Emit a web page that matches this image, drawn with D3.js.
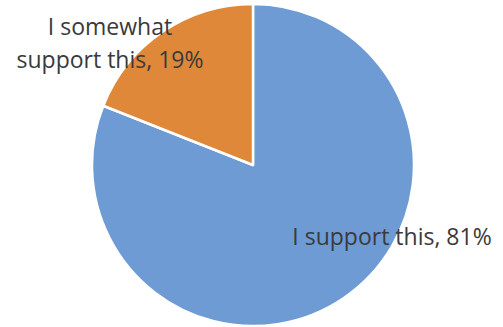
<!DOCTYPE html>
<html>
<head>
    <meta charset="utf-8">
    <title>Support pie</title>
    <script src="https://d3js.org/d3.v7.min.js"></script>
    <style>
        body { margin: 0; background: #fff; }
    </style>
</head>
<body>
<div id="chart"></div>
<script type="text/javascript">

    let categories = ["I support this", "I somewhat support this"];
    let values = [81, 19];
    let colors = ["#6e9bd4", "#df883a"];

    let w = 503, h = 327;
    let cx = 253, cy = 165, radius = 161;

    let svg = d3.select("#chart")
        .append("svg")
            .attr("width", w)
            .attr("height", h);

    let dataset = categories.map(function(c, i) {
        return {name: c, value: values[i], color: colors[i]};
    });

    let pie = d3.pie()
        .sort(null)
        .value(function(d) { return d.value; });

    let arc = d3.arc()
        .innerRadius(0)
        .outerRadius(radius);

    let g = svg.append("g")
        .attr("transform", "translate(" + cx + "," + cy + ")");

    g.selectAll("path")
        .data(pie(dataset))
        .enter()
        .append("path")
        .attr("d", arc)
        .attr("fill", function(d) { return d.data.color; })
        .attr("stroke", "#fff")
        .attr("stroke-width", 2.5)
        .attr("stroke-linejoin", "round");

    // labels, placed like the Excel data labels
    let labelPos = [
        {lines: [categories[0] + ", " + values[0] + "%"], x: 392, y: 245},
        {lines: ["I somewhat", "support this, " + values[1] + "%"], x: 110, y: 35}
    ];

    labelPos.forEach(function(p) {
        let t = svg.append("text")
            .attr("text-anchor", "middle")
            .attr("font-family", "Open Sans, sans-serif")
            .attr("font-size", "23px")
            .attr("fill", "#3a3a3a");
        p.lines.forEach(function(l, i) {
            t.append("tspan")
                .attr("x", p.x)
                .attr("y", p.y + i * 33)
                .text(l);
        });
    });

</script>
</body>
</html>
